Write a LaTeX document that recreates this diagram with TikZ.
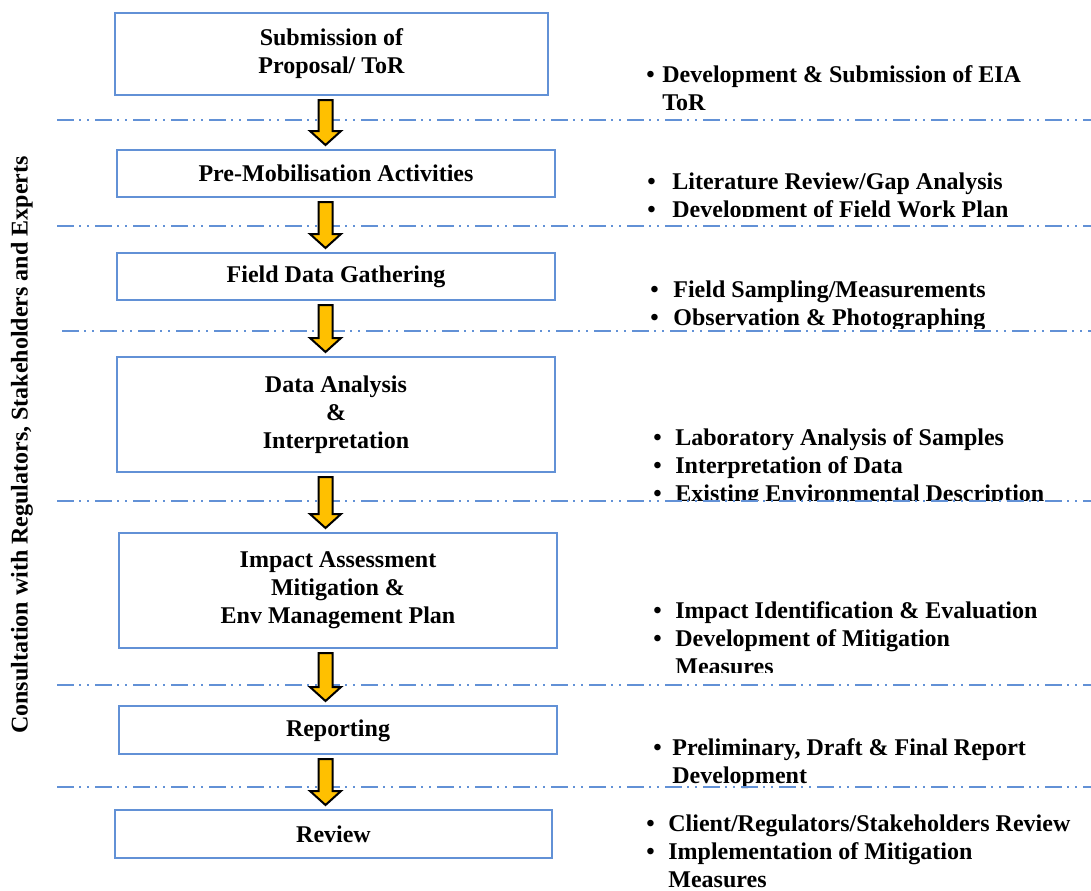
\documentclass[tikz,border=0pt]{standalone}
\usepackage{fontspec}
\setmainfont{Liberation Serif}
\usetikzlibrary{calc}

\definecolor{boxblue}{RGB}{98,145,214}
\definecolor{arrowgold}{RGB}{255,192,0}

\newcommand{\steptext}{\fontsize{12}{14}\selectfont\bfseries}
\newcommand{\bul}[1]{\makebox[#1][l]{\textbullet}}

\tikzset{
  stepbox/.style={draw=boxblue, line width=1pt, rectangle, align=center, font=\steptext, inner sep=0pt},
  notes/.style={anchor=base west, inner sep=0pt, text width=240pt, align=flush left, font=\steptext},
  sepline/.style={draw=boxblue, line width=1pt, dash pattern=on 8.5pt off 2.5pt on 1pt off 3pt on 1pt off 3pt},
  gold/.style={draw=black, fill=arrowgold, line width=1pt, line join=miter}
}

% fat yellow arrow from the bottom of one box to the top of the next
\newcommand{\flowarrow}[2]{%
  \draw[gold] ($(#1.south -| ax)+(-7,4)$) -- ($(#1.south -| ax)+(7,4)$)
    -- ($(#2.north -| ax)+(7,-18)$) -- ($(#2.north -| ax)+(15.5,-18)$)
    -- ($(#2.north -| ax)+(0,-4)$) -- ($(#2.north -| ax)+(-15.5,-18)$)
    -- ($(#2.north -| ax)+(-7,-18)$) -- cycle;}

\begin{document}
\begin{tikzpicture}[x=0.5pt, y=-0.5pt]
  \useasboundingbox (0,0) rectangle (1091,890);
  \coordinate (ax) at (325.5,0);

  % process steps
  \node[stepbox, minimum width=216.5pt, minimum height=41pt] (sub) at (331.5,54) {Submission of\\Proposal/ ToR};
  \node[stepbox, minimum width=219pt, minimum height=23.5pt] (premob) at (336,173.5) {Pre-Mobilisation Activities};
  \node[stepbox, minimum width=219pt, minimum height=23.5pt] (field) at (336,276.5) {Field Data Gathering};
  \node[stepbox, minimum width=219pt, minimum height=57.5pt] (analysis) at (336,414.5) {Data Analysis\\\&\\Interpretation};
  \node[stepbox, minimum width=219pt, minimum height=57.5pt] (impact) at (338,590.5) {Impact Assessment\\Mitigation \&\\Env Management Plan};
  \node[stepbox, minimum width=219pt, minimum height=24pt] (report) at (338,730) {};
  \begin{scope}
    \clip (119,700) rectangle (557,742);
    \node[font=\steptext, inner sep=0pt] (reportlbl) at (338,731) {Reporting};
  \end{scope}
  \node[stepbox, minimum width=218.5pt, minimum height=24pt] (review) at (333.5,834) {Review};

  % consultation runs alongside every step
  \node[rotate=90, font=\steptext] (consult) at (22,445) {Consultation with Regulators, Stakeholders and Experts};

  % activities for each step
  \node[notes] (tor) at (646,82) {\bul{8pt}Development \& Submission of EIA\\\hspace*{8pt}ToR};
  \begin{scope}
    \clip (600,150) rectangle (1091,216);
    \node[notes] (desk) at (647,189) {\bul{12.5pt}Literature Review/Gap Analysis\\\bul{12.5pt}Development of Field Work Plan};
  \end{scope}
  \begin{scope}
    \clip (600,260) rectangle (1091,328);
    \node[notes] (sampling) at (650,297) {\bul{11.5pt}Field Sampling/Measurements\\\bul{11.5pt}Observation \& Photographing};
  \end{scope}
  \begin{scope}
    \clip (600,400) rectangle (1091,500);
    \node[notes] (lab) at (653,445) {\bul{11pt}Laboratory Analysis of Samples\\\bul{11pt}Interpretation of Data\\\bul{11pt}Existing Environmental Description};
  \end{scope}
  \begin{scope}
    \clip (600,580) rectangle (1091,672);
    \node[notes] (mitig) at (653,618) {\bul{11pt}Impact Identification \& Evaluation\\\bul{11pt}Development of Mitigation\\\hspace*{11pt}Measures};
  \end{scope}
  \node[notes] (drafts) at (653,755) {\bul{9.5pt}Preliminary, Draft \& Final Report\\\hspace*{9.5pt}Development};
  \node[notes] (clientrev) at (646,831) {\bul{11pt}Client/Regulators/Stakeholders Review\\\bul{11pt}Implementation of Mitigation\\\hspace*{11pt}Measures};

  % stage separators
  \foreach \y/\x in {120/57, 226/57, 331/62, 501/57, 685/57, 787/57}
    \draw[sepline] (\x,\y) -- (1091,\y);

  % flow
  \flowarrow{sub}{premob}
  \flowarrow{premob}{field}
  \flowarrow{field}{analysis}
  \flowarrow{analysis}{impact}
  \flowarrow{impact}{report}
  \flowarrow{report}{review}
\end{tikzpicture}
\end{document}
